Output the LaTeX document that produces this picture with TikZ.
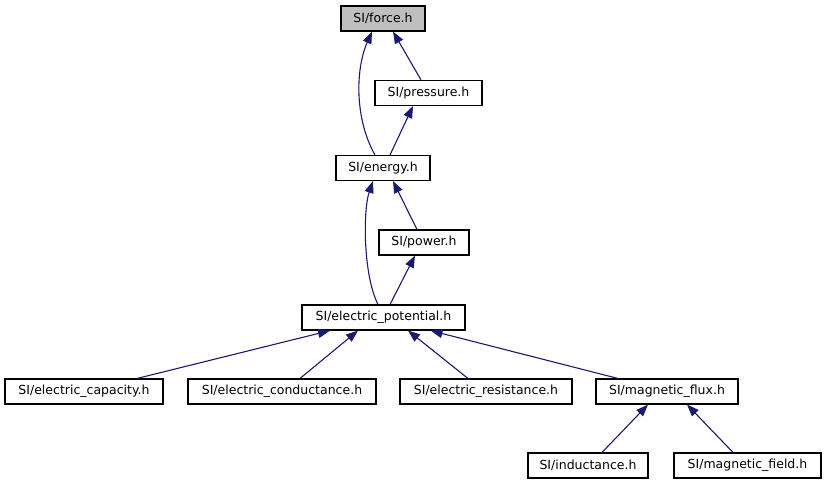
\documentclass[tikz,border=0pt]{standalone}
\usepackage{fontspec}
\setmainfont{DejaVu Sans}
\usetikzlibrary{arrows.meta}
\definecolor{edgecol}{HTML}{191970}
\definecolor{rootfill}{HTML}{BFBFBF}
\tikzset{
  box/.style={draw=black, line width=1.1pt, fill=white, minimum height=25pt, inner sep=0pt,
    font=\fontsize{12.5pt}{14pt}\selectfont, anchor=center},
  edge/.style={draw=edgecol, line width=1.1pt, -{Triangle[length=12pt,width=9pt]}},
}
\begin{document}
\begin{tikzpicture}[x=1pt,y=-1pt]
\useasboundingbox (0,0) rectangle (826,485);
\node[box, fill=rootfill, minimum width=84pt] (force) at (383,18.5) {SI/force.h};
\node[box, minimum width=107pt] (pressure) at (428.5,93) {SI/pressure.h};
\node[box, minimum width=94pt] (energy) at (383,168) {SI/energy.h};
\node[box, minimum width=90pt] (power) at (424,242.5) {SI/power.h};
\node[box, minimum width=163pt] (ep) at (383.5,317.5) {SI/electric\_potential.h};
\node[box, minimum width=158pt] (cap) at (84,391.5) {SI/electric\_capacity.h};
\node[box, minimum width=188pt] (cond) at (282,391.5) {SI/electric\_conductance.h};
\node[box, minimum width=172pt] (res) at (486,391.5) {SI/electric\_resistance.h};
\node[box, minimum width=142pt] (flux) at (667,391.5) {SI/magnetic\_flux.h};
\node[box, minimum width=120pt] (ind) at (588,465.5) {SI/inductance.h};
\node[box, minimum width=147pt] (field) at (747.5,465.5) {SI/magnetic\_field.h};

\draw[edge] ([xshift=-8pt]energy.north) .. controls (355,120) and (355,70) .. ([xshift=-11pt]force.south);
\draw[edge] ([xshift=-7.5pt]pressure.north) -- ([xshift=10pt]force.south);
\draw[edge] ([xshift=7pt]energy.north) -- ([xshift=-15.5pt]pressure.south);
\draw[edge] ([xshift=-5.5pt]ep.north) .. controls (363,275) and (363,210) .. ([xshift=-10pt]energy.south);
\draw[edge] ([xshift=-7pt]power.north) -- ([xshift=10pt]energy.south);
\draw[edge] ([xshift=6.5pt]ep.north) -- ([xshift=-9pt]power.south);
\draw[edge] ([xshift=53pt]cap.north) -- ([xshift=-53.5pt]ep.south);
\draw[edge] ([xshift=18pt]cond.north) -- ([xshift=-25.5pt]ep.south);
\draw[edge] ([xshift=-18pt]res.north) -- ([xshift=24.5pt]ep.south);
\draw[edge] ([xshift=-49pt]flux.north) -- ([xshift=47pt]ep.south);
\draw[edge] ([xshift=14pt]ind.north) -- ([xshift=-19pt]flux.south);
\draw[edge] ([xshift=-14.5pt]field.north) -- ([xshift=20pt]flux.south);
\end{tikzpicture}
\end{document}
